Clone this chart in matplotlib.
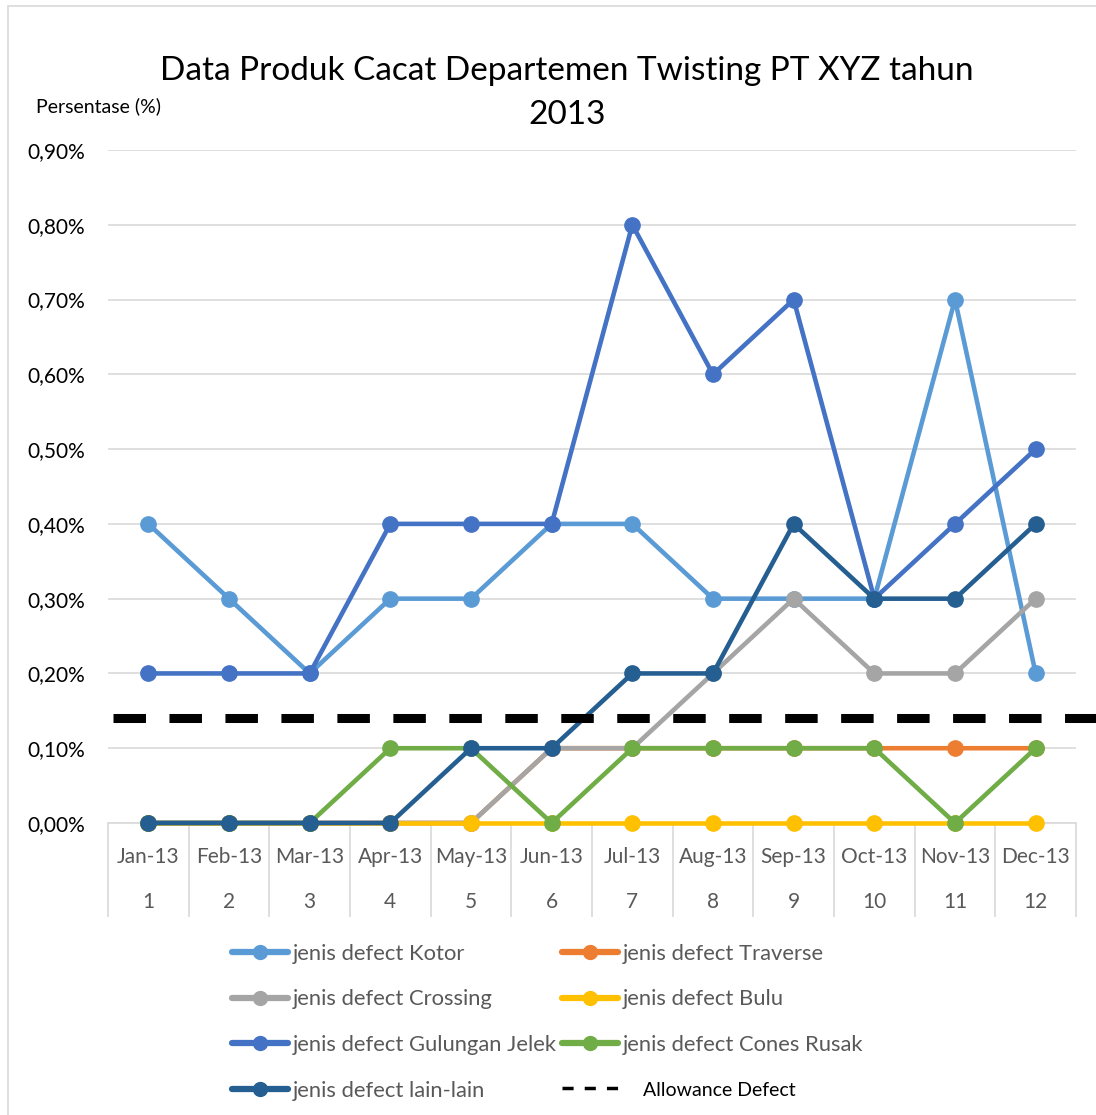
import matplotlib
matplotlib.use("Agg")
import matplotlib.pyplot as plt
from matplotlib.lines import Line2D
from matplotlib.patches import Rectangle
import matplotlib.transforms as mtransforms

plt.rcParams["font.family"] = ["Lato", "DejaVu Sans"]

months = ["Jan-13", "Feb-13", "Mar-13", "Apr-13", "May-13", "Jun-13",
          "Jul-13", "Aug-13", "Sep-13", "Oct-13", "Nov-13", "Dec-13"]
month_no = ["1", "2", "3", "4", "5", "6", "7", "8", "9", "10", "11", "12"]

kotor = [0.4, 0.3, 0.2, 0.3, 0.3, 0.4, 0.4, 0.3, 0.3, 0.3, 0.7, 0.2]
traverse = [0, 0, 0, 0, 0, 0.1, 0.1, 0.1, 0.1, 0.1, 0.1, 0.1]
crossing = [0, 0, 0, 0, 0, 0.1, 0.1, 0.2, 0.3, 0.2, 0.2, 0.3]
bulu = [0, 0, 0, 0, 0, 0, 0, 0, 0, 0, 0, 0]
gulungan = [0.2, 0.2, 0.2, 0.4, 0.4, 0.4, 0.8, 0.6, 0.7, 0.3, 0.4, 0.5]
cones = [0, 0, 0, 0.1, 0.1, 0, 0.1, 0.1, 0.1, 0.1, 0, 0.1]
lain = [0, 0, 0, 0, 0.1, 0.1, 0.2, 0.2, 0.4, 0.3, 0.3, 0.4]
allowance = 0.14

series = [
    ("jenis defect Kotor", kotor, "#5B9BD5"),
    ("jenis defect Traverse", traverse, "#ED7D31"),
    ("jenis defect Crossing", crossing, "#A5A5A5"),
    ("jenis defect Bulu", bulu, "#FFC000"),
    ("jenis defect Gulungan Jelek", gulungan, "#4472C4"),
    ("jenis defect Cones Rusak", cones, "#70AD47"),
    ("jenis defect lain-lain", lain, "#255E91"),
]

W, H = 1096, 1115
fig = plt.figure(figsize=(W / 100, H / 100), dpi=100)
ax = fig.add_axes([108 / W, 1 - 823 / H, 968 / W, 673 / H])

# outer chart border (cropped at right and bottom)
fig.patches.append(Rectangle((8 / W, -0.5), 2, 1.5 - 6 / H, transform=fig.transFigure,
                             fill=False, edgecolor="#D9D9D9", linewidth=1.2))

x = list(range(len(months)))
handles = {}
for name, vals, col in series:
    ln, = ax.plot(x, vals, color=col, linewidth=3.3, marker="o", markersize=11,
                  solid_capstyle="round", label=name, clip_on=False, zorder=3)
    handles[name] = ln

# allowance line across whole figure width
tr = mtransforms.blended_transform_factory(fig.transFigure, ax.transData)
ax.plot([113 / W, 1.0], [allowance, allowance], transform=tr, color="black",
        linewidth=6.5, dashes=(3.6, 2.6), clip_on=False, zorder=4)

ax.set_xlim(-0.5, 11.5)
ax.set_ylim(0, 0.9)
ax.set_yticks([i / 10 for i in range(10)])
ax.set_yticklabels([f"{i / 10:.2f}%".replace(".", ",") for i in range(10)], fontsize=15)
ax.tick_params(axis="y", length=0, pad=16.5, colors="black")
ax.grid(axis="y", color="#D9D9D9", linewidth=1.2)
ax.set_axisbelow(True)
for s in ["top", "right", "left"]:
    ax.spines[s].set_visible(False)
ax.spines["bottom"].set_color("#D9D9D9")
ax.spines["bottom"].set_linewidth(1.2)

ax.set_xticks(x)
ax.set_xticklabels(months, fontsize=15, color="#595959")
ax.tick_params(axis="x", length=0, pad=17)
xt = ax.get_xaxis_transform()
for i, n in enumerate(month_no):
    ax.text(i, -79 / 673, n, transform=xt, ha="center", va="center",
            fontsize=15, color="#595959")
ax.vlines([i - 0.5 for i in range(13)], -94 / 673, 0, transform=xt,
          color="#D9D9D9", linewidth=1.2, clip_on=False)

fig.text(567 / W, 1 - 93 / H, "Data Produk Cacat Departemen Twisting PT XYZ tahun\n2013",
         ha="center", va="center", fontsize=24, linespacing=1.62)
fig.text(36 / W, 1 - 106 / H, "Persentase (%)", ha="left", va="center", fontsize=14)

order = ["jenis defect Kotor", "jenis defect Crossing", "jenis defect Gulungan Jelek",
         "jenis defect lain-lain", "jenis defect Traverse", "jenis defect Bulu",
         "jenis defect Cones Rusak"]
leg_handles = []
for n in order:
    h = handles[n]
    leg_handles.append(Line2D([], [], color=h.get_color(), linewidth=4.5, marker="o",
                              markersize=10, solid_capstyle="round"))
leg_handles.append(Line2D([], [], color="black", linewidth=2.5, dashes=(3.2, 3.2)))
leg_labels = order + ["    Allowance Defect"]
leg = fig.legend(leg_handles, leg_labels, ncol=2, loc="upper left",
                 bbox_to_anchor=(223 / W, 1 - 935 / H), frameon=False,
                 fontsize=15.8, handlelength=2.55, handletextpad=0.23,
                 columnspacing=0.25, labelspacing=1.17, borderaxespad=0)
for t in leg.get_texts():
    t.set_color("#595959")
leg.get_texts()[-1].set_color("black")
leg.get_texts()[-1].set_fontsize(14)

fig.savefig("out.png", dpi=100)
